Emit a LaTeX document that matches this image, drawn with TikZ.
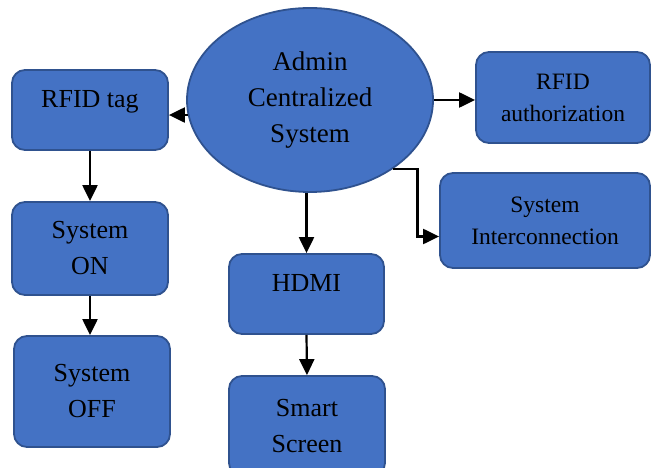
\documentclass[tikz,border=0pt]{standalone}
\usepackage{fontspec}
\setmainfont{Liberation Serif}
\usetikzlibrary{arrows.meta,shapes.geometric}
\definecolor{boxblue}{HTML}{4472C4}
\definecolor{edgeblue}{HTML}{2F528F}

\begin{document}
\begin{tikzpicture}[x=1pt, y=-1pt,
    block/.style={rectangle, rounded corners=13pt, draw=edgeblue, line width=1.8pt, fill=boxblue,
      align=center, inner sep=0pt, font=\fontsize{26}{36}\selectfont},
    smallblock/.style={block, font=\fontsize{23.5}{32}\selectfont},
    toptext/.style={text depth=22pt},
    hub/.style={ellipse, draw=edgeblue, line width=1.8pt, fill=boxblue, align=center, inner sep=0pt,
      font=\fontsize{27}{36}\selectfont},
    arr/.style={-{Triangle[length=16pt,width=15pt]}, line width=2.2pt, black}]
      \useasboundingbox (0,0) rectangle (651,468);

      % Centre
      \node[hub, minimum width=246pt, minimum height=184pt] (admin) at (310,100) {Admin\\Centralized\\System};

      % Left column
      \node[block, toptext, minimum width=156pt, minimum height=80pt] (tag) at (90,110) {RFID tag};
      \node[block, minimum width=156pt, minimum height=93pt] (on) at (90,248.5) {System\\ON};
      \node[block, minimum width=156pt, minimum height=111pt] (off) at (92,391.5) {System\\OFF};

      % Middle column
      \node[block, toptext, minimum width=155pt, minimum height=80pt] (hdmi) at (306.5,294) {HDMI};
      \node[block, minimum width=156pt, minimum height=100pt] (screen) at (307,426) {Smart\\Screen};

      % Right column
      \node[smallblock, minimum width=174pt, minimum height=91pt] (auth) at (563,97.5) {RFID\\authorization};
      \node[smallblock, minimum width=210pt, minimum height=95pt] (inter) at (545,220.5) {System\\Interconnection};

      % Arrows
      \draw[arr] (admin.187) -- (admin.187 -| tag.east);
      \draw[arr] (admin.east) -- (admin.east -| auth.west);
      \draw[arr] (hdmi.north |- admin.south) -- (hdmi.north);
      \draw[arr] (admin.-40) -- ++(25,0) |- ([yshift=-16pt]inter.west);
      \draw[arr] (tag.south) -- (on.north);
      \draw[arr] (on.south) -- (on.south |- off.north);
      \draw[arr] (hdmi.south) -- (screen.north);
    \end{tikzpicture}
\end{document}
